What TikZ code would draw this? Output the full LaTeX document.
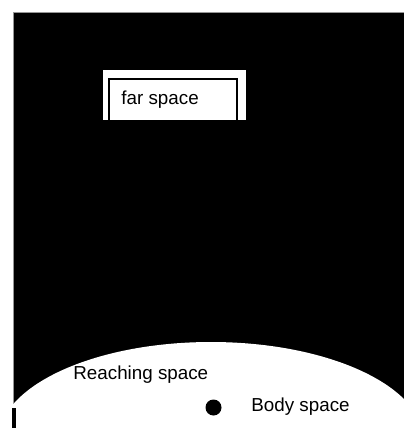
\documentclass[tikz,border=0pt]{standalone}
\usepackage{fontspec}
\setmainfont{Liberation Sans}
\usepackage{tikz}
\usetikzlibrary{positioning}
\usepackage{xcolor}
\definecolor{rimgray}{RGB}{150,150,150}
\definecolor{spaceblack}{RGB}{0,0,0}
\tikzset{
  % Umumiy fon (qora maydon)
  spacefill/.style   = {fill=spaceblack, draw=rimgray, line width=0.5pt},
  % Oq sohalar
  whitezone/.style   = {fill=white},
  frameline/.style   = {draw=black, line width=0.6pt},
  % Nuqta (tana)
  bodydot/.style     = {circle, fill=black, inner sep=0pt, minimum size=8pt},
  % Etiketlar
  lab/.style         = {font=\fontsize{9.4}{11}\selectfont, inner sep=0pt, anchor=base west},
}
\begin{document}
\begin{tikzpicture}[x=0.5pt, y=-0.5pt]
  \useasboundingbox (0,0) rectangle (403,428);
  % qora fon
  \fill[white] (0,0) rectangle (403,428);
  \draw[spacefill] (13,12) rectangle (410,440);
  % far space (yuqori oq quti)
  \fill[whitezone] (103,70) rectangle (246,120);
  \draw[frameline] (109,120) -- (109,79) -- (237,79) -- (237,120);
  \node[lab] (far) at (121,104) {far space};
  % reaching space (pastki oq ellips)
  \fill[whitezone] (211,441) ellipse [x radius=106.5pt, y radius=49.5pt];
  \fill[black] (12,408) rectangle (16,430);
  \node[lab] (reach) at (73,379) {Reaching space};
  % body space
  \node[bodydot] (body) at (213.5,407.5) {};
  \node[lab] (bodylab) at (251,411) {Body space};
\end{tikzpicture}
\end{document}
